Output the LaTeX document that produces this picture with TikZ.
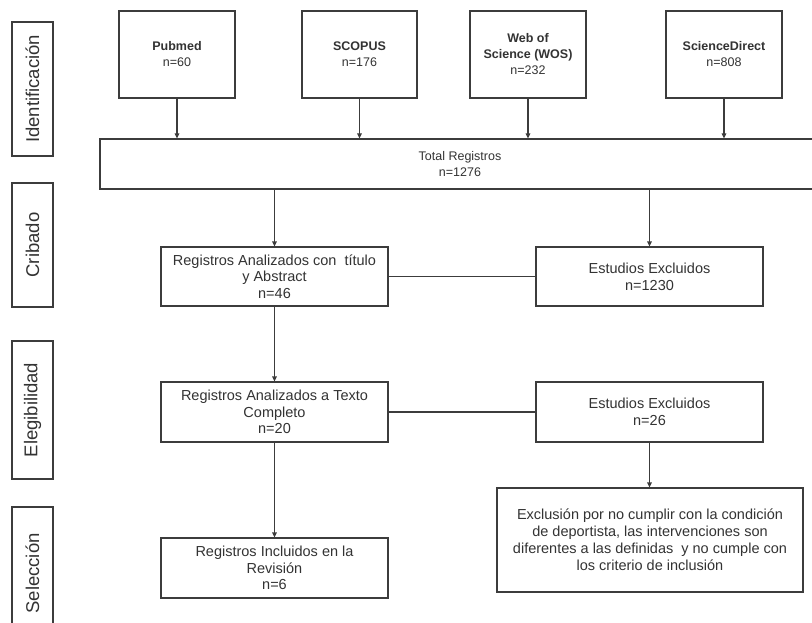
\documentclass[tikz,border=0pt]{standalone}
\usepackage{fontspec}
\setmainfont{Liberation Sans}
\usetikzlibrary{arrows.meta}
\definecolor{ln}{HTML}{3C3C3C}
\definecolor{tx}{HTML}{333333}
\tikzset{
  box/.style={draw=ln, line width=1.2pt, rectangle, align=center, text=tx, inner sep=2pt},
  side/.style={box, minimum width=41pt, font=\fontsize{18.5}{20}\selectfont},
  src/.style={box, minimum width=116pt, minimum height=87pt, font=\fontsize{12.5}{16}\selectfont},
  body/.style={box, font=\fontsize{14.5}{16.7}\selectfont},
  arr/.style={draw=ln, line width=1.2pt, -{Triangle[length=5pt,width=4.5pt]}},
  lnk/.style={draw=ln, line width=1.2pt}
}
\begin{document}
\begin{tikzpicture}[x=1pt,y=-1pt]
\clip (0,0) rectangle (812,623);
\fill[white] (0,0) rectangle (812,623);
% side labels
\node[side, minimum height=134pt] (s1) at (32.5,89) {\rotatebox{90}{Identificación}};
\node[side, minimum height=124pt] (s2) at (32.5,245) {\rotatebox{90}{Cribado}};
\node[side, minimum height=138pt] (s3) at (32.5,410) {\rotatebox{90}{Elegibilidad}};
\node[side, minimum height=133pt] (s4) at (32.5,573.5) {\rotatebox{90}{Selección}};
% sources
\node[src] (pub) at (177,54.5) {\textbf{Pubmed}\\n=60};
\node[src, minimum width=115pt] (sco) at (359.5,54.5) {\textbf{SCOPUS}\\n=176};
\node[src] (wos) at (528,54.5) {\textbf{Web of}\\\textbf{Science (WOS)}\\n=232};
\node[src] (sd) at (724,54.5) {\textbf{ScienceDirect}\\n=808};
% total
\node[box, minimum width=720pt, minimum height=50pt, font=\fontsize{12.5}{16.7}\selectfont] (tot) at (460,164) {Total Registros\\n=1276};
% screening
\node[body, minimum width=227pt, minimum height=59pt] (ra) at (274.5,276.5) {Registros Analizados con\ \ título\\y Abstract\\n=46};
\node[body, minimum width=227pt, minimum height=59pt] (ee1) at (649.5,276.5) {Estudios Excluidos\\n=1230};
% eligibility
\node[body, minimum width=227pt, minimum height=60pt] (rtc) at (274.5,412) {Registros Analizados a Texto\\Completo\\n=20};
\node[body, minimum width=227pt, minimum height=60pt] (ee2) at (649.5,412) {Estudios Excluidos\\n=26};
\node[body, minimum width=306pt, minimum height=104pt, font=\fontsize{14.5}{17}\selectfont] (exc) at (650,540) {Exclusión por no cumplir con la condición\\de deportista, las intervenciones son\\diferentes a las definidas\ \ y no cumple con\\los criterio de inclusión};
% selection
\node[body, minimum width=227pt, minimum height=60pt] (ri) at (274.5,568) {Registros Incluidos en la\\Revisión\\n=6};
% connectors
\draw[arr] (pub.south) -- (pub.south |- tot.north);
\draw[arr] (sco.south) -- (sco.south |- tot.north);
\draw[arr] (wos.south) -- (wos.south |- tot.north);
\draw[arr] (sd.south) -- (sd.south |- tot.north);
\draw[arr] (ra.north |- tot.south) -- (ra.north);
\draw[arr] (ee1.north |- tot.south) -- (ee1.north);
\draw[lnk] (ra.east) -- (ee1.west);
\draw[arr] (ra.south) -- (rtc.north);
\draw[lnk] (rtc.east) -- (ee2.west);
\draw[arr] (ee2.south) -- (exc.north -| ee2.south);
\draw[arr] (rtc.south) -- (ri.north);
\end{tikzpicture}
\end{document}
